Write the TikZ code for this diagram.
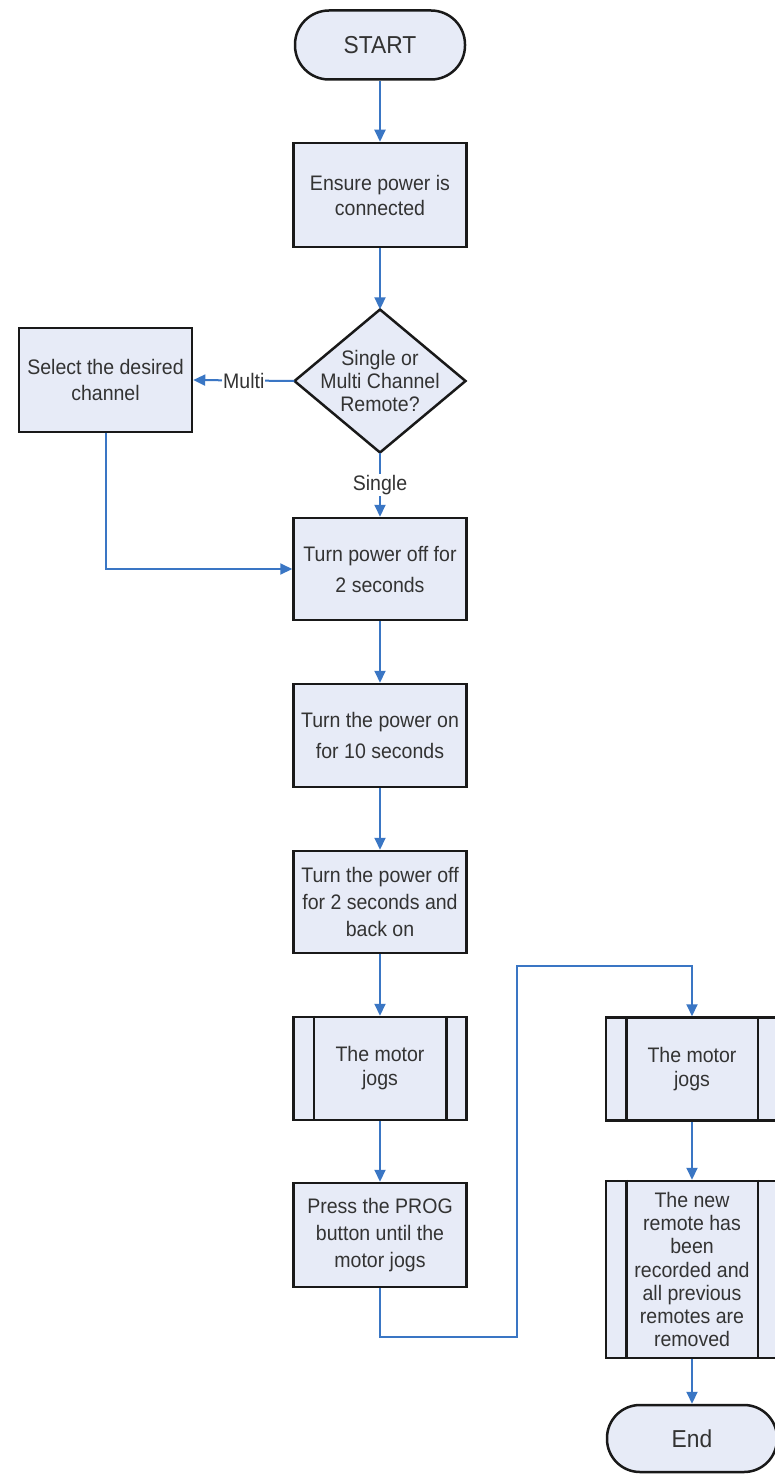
\documentclass[tikz,border=0pt]{standalone}
\usepackage{fontspec}
\setmainfont{Liberation Sans}[FakeStretch=0.93]
\usetikzlibrary{arrows.meta,calc}
\definecolor{boxfill}{HTML}{E7EBF7}
\definecolor{connblue}{HTML}{3A76C4}
\definecolor{txt}{HTML}{333333}
\tikzset{
  every node/.style={text=txt},
  procbox/.style={draw=black!90, line width=2.5pt, fill=boxfill, minimum width=173pt, minimum height=104pt, align=center, inner sep=0pt},
  termbox/.style={draw=black!90, line width=2.5pt, fill=boxfill, minimum width=170pt, minimum height=69pt, rounded corners=34pt, align=center, inner sep=0pt, font=\fontsize{24.5}{28}\selectfont},
  conn/.style={draw=connblue, line width=2pt, -{Triangle[length=12pt,width=11pt]}},
  lbl/.style={fill=white, inner sep=1pt},
  fs/.style={font=\fontsize{21}{#1}\selectfont},
}
\begin{document}
\begin{tikzpicture}[x=1pt,y=-1pt]
\useasboundingbox (0,0) rectangle (775,1474);
\fill[white] (0,0) rectangle (775,1474);

% nodes
\node[termbox] (start) at (380,45) {START};
\node[procbox, fs=25] (ensure) at (380,195) {Ensure power is\\connected};

% diamond
\fill[boxfill] (380,309.5) -- (465.5,381) -- (380,452.5) -- (294.5,381) -- cycle;
\draw[black!90, line width=2.5pt, line join=miter] (380,309.5) -- (465.5,381) -- (380,452.5) -- (294.5,381) -- cycle;
\node[minimum width=171pt, minimum height=143pt, align=center, inner sep=0pt, fs=23] (dia) at (380,381) {Single or\\Multi Channel\\Remote?};

\node[procbox, fs=26] (select) at (105.5,380) {Select the desired\\channel};
\node[procbox, fs=31, minimum height=102pt] (off) at (380,569) {Turn power off for\\2 seconds};
\node[procbox, fs=31, minimum height=103pt] (on) at (380,735.5) {Turn the power on\\for 10 seconds};
\node[procbox, fs=27, minimum height=102pt] (offon) at (380,902) {Turn the power off\\for 2 seconds and\\back on};
\node[procbox, fs=24, minimum height=103pt] (jog1) at (380,1068.5) {The motor\\jogs};
\node[procbox, fs=27, minimum height=104pt] (press) at (380,1235) {Press the PROG\\button until the\\motor jogs};
\node[procbox, fs=24, minimum width=172pt, minimum height=103pt] (jog2) at (692,1069) {The motor\\jogs};
\node[procbox, fs=23.3, minimum width=172pt, minimum height=177pt] (final) at (692,1269.5) {The new\\remote has\\been\\recorded and\\all previous\\remotes are\\removed};
\node[termbox, minimum height=67pt, rounded corners=33pt] (end) at (692,1438.5) {End};

% predefined-process side bars
\foreach \n in {jog1,jog2,final}{
  \draw[black!90, line width=2.5pt] ([xshift=21.5pt]\n.north west) -- ([xshift=21.5pt]\n.south west);
  \draw[black!90, line width=2.5pt] ([xshift=-21.5pt]\n.north east) -- ([xshift=-21.5pt]\n.south east);
}

% connectors
\draw[conn] (start) -- (ensure);
\draw[conn] (ensure) -- (dia.north);
\draw[conn] (dia.west) -- node[lbl, fs=20, pos=0.5] (multi) {Multi} (select.east);
\draw[conn] (dia.south) -- node[lbl, fs=20, pos=0.5] (single) {Single} (off.north);
\draw[conn] (select.south) |- (off.west);
\draw[conn] (off) -- (on);
\draw[conn] (on) -- (offon);
\draw[conn] (offon) -- (jog1);
\draw[conn] (jog1) -- (press);
\coordinate (l1) at (517,1337);
\coordinate (l2) at (517,966);
\draw[conn] (press.south) |- (l1) -- (l2) -| (jog2.north);
\draw[conn] (jog2) -- (final);
\draw[conn] (final) -- (end);
\end{tikzpicture}
\end{document}
